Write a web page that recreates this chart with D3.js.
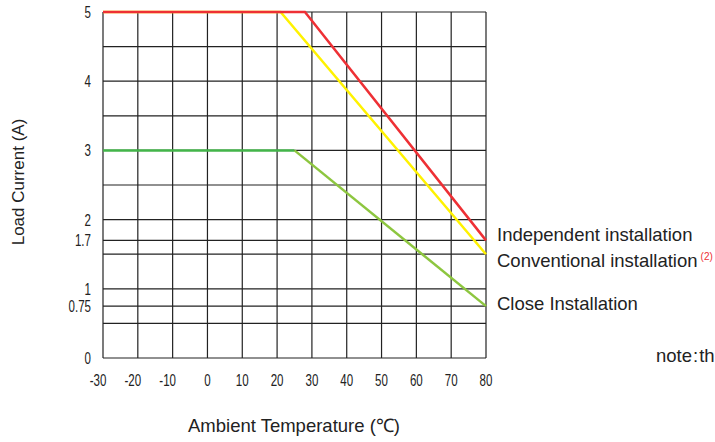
<!DOCTYPE html>
<html>
<head>
<meta charset="utf-8">
<script src="https://cdn.jsdelivr.net/npm/d3@7"></script>
<style>
  body { margin: 0; background: #fff; }
  svg { display: block; }
  .tick-label { font-family: "Liberation Sans", Arial, sans-serif; font-size: 16.5px; fill: #222; }
  .label { font-family: "Liberation Sans", Arial, sans-serif; fill: #222; }
</style>
</head>
<body>
<div id="chart"></div>
<script>
const xTicks = [-30, -20, -10, 0, 10, 20, 30, 40, 50, 60, 70, 80];
const yTickLabels = [5, 4, 3, 2, 1.7, 1, 0.75, 0];
const yGrid = [0, 0.5, 0.75, 1, 1.5, 1.7, 2, 2.5, 3, 3.5, 4, 4.5, 5];

const independent = [{t: -30, a: 5}, {t: 28, a: 5}, {t: 80, a: 1.7}];
const conventional = [{t: -30, a: 5}, {t: 21, a: 5}, {t: 80, a: 1.5}];
const closeFlat = [{t: -30, a: 3}, {t: 25, a: 3}];
const closeSlope = [{t: 25, a: 3}, {t: 80, a: 0.75}];

const width = 715, height = 442;
const margin = {top: 12, left: 103, right: 229, bottom: 84};
const narrow = 0.7; // condensed look of the tick labels

const svg = d3.select('#chart')
  .append('svg')
  .attr('width', width)
  .attr('height', height);

const x = d3.scaleLinear().domain([-30, 80]).range([margin.left, width - margin.right]);
const y = d3.scaleLinear().domain([0, 5]).range([height - margin.bottom, margin.top]);

// grid
svg.append('g').selectAll('line').data(xTicks).join('line')
  .attr('x1', d => x(d)).attr('x2', d => x(d))
  .attr('y1', y(0)).attr('y2', y(5))
  .attr('stroke', '#222').attr('stroke-width', 1.2);

svg.append('g').selectAll('line').data(yGrid).join('line')
  .attr('x1', x(-30)).attr('x2', x(80))
  .attr('y1', d => y(d)).attr('y2', d => y(d))
  .attr('stroke', '#222').attr('stroke-width', 1.2);

// tick labels
svg.append('g').selectAll('text').data(yTickLabels).join('text')
  .attr('class', 'tick-label')
  .attr('transform', d => `translate(91, ${y(d) + 6}) scale(${narrow}, 1)`)
  .attr('text-anchor', 'end')
  .text(d => d);

svg.append('g').selectAll('text').data(xTicks).join('text')
  .attr('class', 'tick-label')
  .attr('transform', d => `translate(${x(d) - (d < 0 ? 5 : 0)}, 386) scale(${narrow}, 1)`)
  .attr('text-anchor', 'middle')
  .text(d => d);

// curves
const line = d3.line().x(d => x(d.t)).y(d => y(d.a));

svg.append('path').datum(closeFlat)
  .attr('d', line).attr('fill', 'none')
  .attr('stroke', '#43b54a').attr('stroke-width', 2.5);
svg.append('path').datum(closeSlope)
  .attr('d', line).attr('fill', 'none')
  .attr('stroke', '#8dc63f').attr('stroke-width', 2.5);
svg.append('path').datum(conventional)
  .attr('d', line).attr('fill', 'none')
  .attr('stroke', '#fff200').attr('stroke-width', 2.5);
svg.append('path').datum(independent)
  .attr('d', line).attr('fill', 'none')
  .attr('stroke', '#ee3035').attr('stroke-width', 2.5);

// curve labels
svg.append('text').attr('class', 'label')
  .attr('x', 497).attr('y', 241).style('font-size', '18.5px')
  .text('Independent installation');

const conv = svg.append('text').attr('class', 'label')
  .attr('x', 497).attr('y', 267).style('font-size', '18.5px')
  .text('Conventional installation');
conv.append('tspan')
  .attr('dx', 3).attr('dy', -7)
  .style('font-size', '10px').style('fill', '#ee3035')
  .text('(2)');

svg.append('text').attr('class', 'label')
  .attr('x', 497).attr('y', 310).style('font-size', '18.5px')
  .text('Close Installation');

const note = svg.append('text').attr('class', 'label')
  .attr('x', 656).attr('y', 362).style('font-size', '18.5px');
note.append('tspan').text('note');
note.append('tspan').attr('dx', 1).text(':');
note.append('tspan').attr('dx', 1).text('th');

// axis titles
svg.append('text').attr('class', 'label')
  .attr('transform', 'translate(24, 182) rotate(-90)')
  .attr('text-anchor', 'middle')
  .style('font-size', '17px')
  .text('Load Current (A)');

svg.append('text').attr('class', 'label')
  .attr('x', 294).attr('y', 432)
  .attr('text-anchor', 'middle')
  .style('font-size', '18.5px')
  .text('Ambient Temperature (℃)');
</script>
</body>
</html>
